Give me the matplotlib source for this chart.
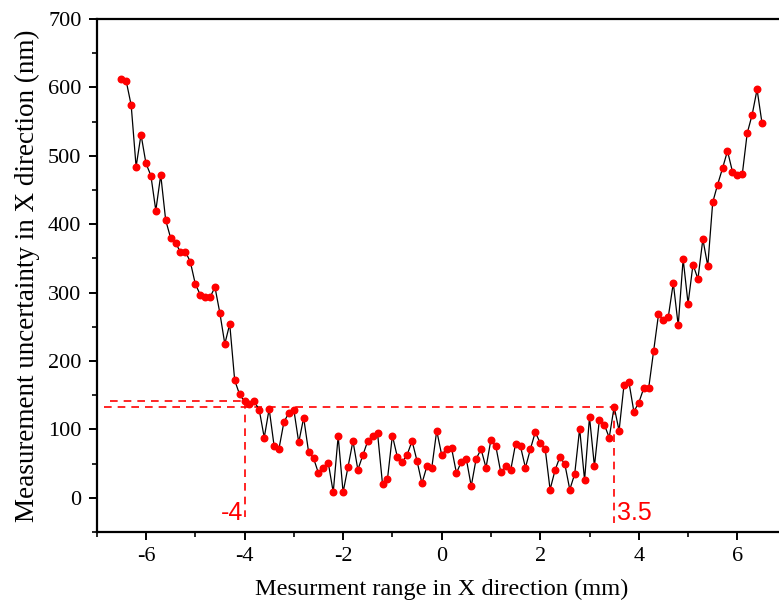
import numpy as np
import matplotlib
matplotlib.use('Agg')
from matplotlib import pyplot as plt

# measurement positions (mm), step 0.1 from -6.5 to 6.5
x_pos = np.round(np.arange(-65, 66) / 10.0, 1)

# uncertainty values (nm)
unc = [612, 609, 574, 484, 531, 489, 471, 420, 472, 406,
       380, 373, 359, 360, 345, 313, 297, 294, 293, 308,
       270, 225, 254, 172, 151, 141, 137,
       141, 128, 88, 130, 76, 72, 111, 124, 129, 81,
       117, 67, 58, 36, 43, 51, 8, 90, 8, 45,
       83, 41, 62, 83,
       90, 94, 20, 27, 91, 60, 52, 63, 83, 54,
       21, 46, 44, 98, 63, 71, 73, 36, 53, 57,
       17, 57, 71, 44, 85, 75, 37,
       46, 40, 79, 75, 44, 71, 96, 80, 72, 12,
       40, 60, 49, 12, 35, 101, 26, 118, 46, 114,
       107, 88, 133, 98, 165,
       169, 126, 139, 160, 160, 214, 268, 260, 265, 314,
       252, 349, 284, 341, 320, 378, 339, 432, 458, 482,
       507, 477, 472, 473, 533, 560, 597, 548]

# threshold guide lines
left_edge, right_edge = -4.0, 3.5
left_level, right_level = 141, 133

plt.rcParams['font.family'] = ['Liberation Serif', 'DejaVu Serif']
plt.rcParams['axes.unicode_minus'] = False

fig = plt.figure(figsize=(7.79, 6.05), dpi=100)
ax = fig.add_axes([0.1241, 0.1207, 0.8857, 0.8479])

ax.plot(x_pos, unc, color='black', lw=0.9, zorder=2)
ax.plot(x_pos, unc, 'o', color='red', ms=4.7, mec='red', zorder=3)

# dashed guide lines
dash = dict(color='red', lw=1.2, dashes=(4.6, 3.6), zorder=1)
ax.plot([-6.72, left_edge], [left_level, left_level], **dash)
ax.plot([-6.85, right_edge], [right_level, right_level], **dash)
ax.plot([left_edge, left_edge], [left_level, -28], **dash)
ax.plot([right_edge, right_edge], [right_level, -37], **dash)

ax.text(left_edge - 0.03, -32, '-4', color='red', fontsize=18,
        family=['Liberation Sans', 'DejaVu Sans'], ha='right', va='baseline')
ax.text(right_edge + 0.05, -32, '3.5', color='red', fontsize=18,
        family=['Liberation Sans', 'DejaVu Sans'], ha='left', va='baseline')

ax.set_xlim(-7, 7)
ax.set_ylim(-50, 700)
ax.set_xticks(np.arange(-6, 7, 2))
ax.set_xticks(np.arange(-7, 8, 1), minor=True)
ax.set_yticks(np.arange(0, 701, 100))
ax.set_yticks(np.arange(-50, 701, 50), minor=True)

for s in ['left', 'bottom', 'top']:
    ax.spines[s].set_linewidth(1.6)
ax.spines['right'].set_visible(False)

ax.tick_params(which='major', direction='out', length=6, width=1.4,
               labelsize=16, pad=5)
ax.tick_params(which='minor', direction='out', length=3.5, width=1.2)

ax.set_xlabel('Mesurment range in X direction (mm)', fontsize=17.6, labelpad=9)
ax.set_ylabel('Measurement uncertainty in X direction (nm)', fontsize=19.5, labelpad=6)

fig.savefig('out.png', dpi=100)
